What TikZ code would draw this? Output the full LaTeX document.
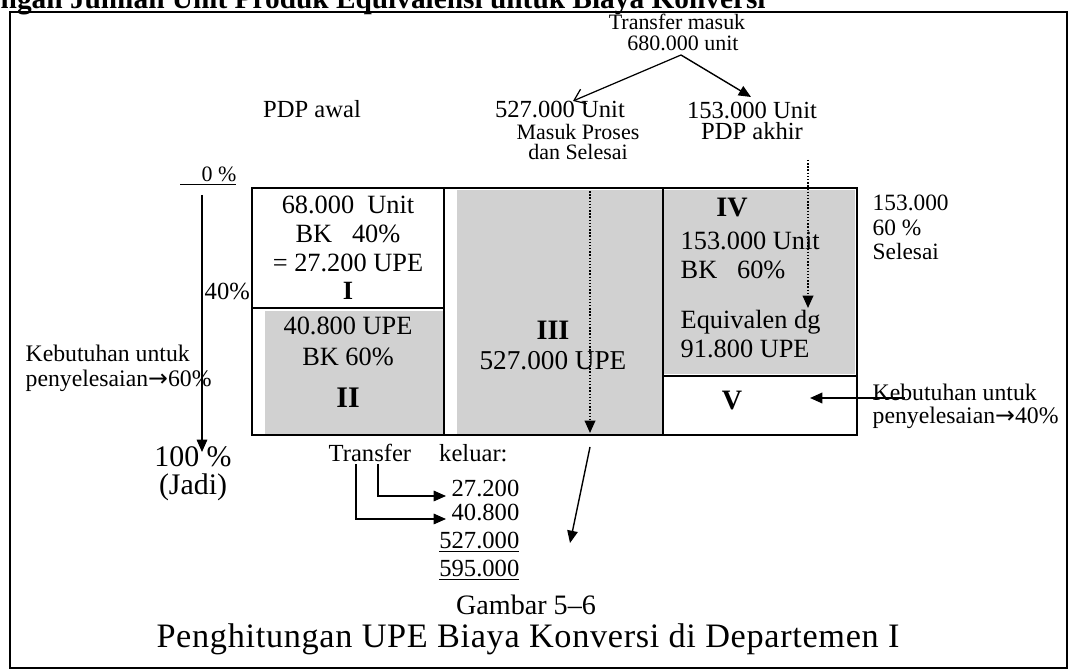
\documentclass[tikz,border=0pt]{standalone}
\usepackage{fontspec}
\setmainfont{Liberation Serif}
\newfontfamily\arrowfont{DejaVu Sans}
\usetikzlibrary{arrows.meta, calc}
\newcommand{\ra}{{\arrowfont →}}
\tikzset{
  every picture/.style={line width=0.8pt},
  txt/.style={inner sep=0pt, font=\fontsize{14}{16}\selectfont},
  sml/.style={inner sep=0pt, font=\fontsize{12.5}{14.2}\selectfont},
  big/.style={inner sep=0pt, font=\fontsize{17}{20}\selectfont},
  roman/.style={inner sep=0pt, font=\fontsize{16}{18}\selectfont\bfseries},
  cell/.style={draw, line width=1pt, inner sep=0pt},
  shade/.style={fill=black!18},
  solidtip/.style={-{Triangle[length=7pt,width=6pt]}, line width=0.8pt},
  opentip/.style={-{Straight Barb[length=6pt,width=9pt]}, line width=0.7pt},
  dots/.style={solidtip, densely dotted, line width=1pt},
}
\begin{document}
\begin{tikzpicture}[x=0.02cm, y=-0.02cm]
  \useasboundingbox (0,0) rectangle (1071,671);
  % frame and clipped heading
  \draw[line width=1.3pt] (10,12) rectangle (1067,668);
  \node[inner sep=0pt, anchor=base west, font=\fontsize{16.7}{20}\selectfont\bfseries] (head) at (0,9)
    {ngan Jumlah Unit Produk Equivalensi untuk Biaya Konversi};

  % the five cells
  \node[cell, minimum width=3.84cm, minimum height=2.40cm] (b1) at (348,248) {};
  \node[cell, minimum width=3.84cm, minimum height=2.54cm] (b2) at (348,371.5) {};
  \node[cell, minimum width=4.38cm, minimum height=4.94cm] (b3) at (553.5,311.5) {};
  \node[cell, minimum width=3.88cm, minimum height=3.76cm] (b4) at (760,282) {};
  \node[cell, minimum width=3.88cm, minimum height=1.18cm] (b5) at (760,405.5) {};
  \fill[shade] ($(b2.south west)+(14,-2)$) rectangle ($(b2.north east)+(-2,4)$);
  \fill[shade] ($(b3.south west)+(14,-2)$) rectangle ($(b3.north east)+(-2,3)$);
  \fill[shade] ($(b4.south west)+(2,-3)$) rectangle ($(b4.north east)+(-3,3)$);

  % text in the cells (anchored on the last line)
  \node[txt, anchor=base, align=center, font=\fontsize{15}{16.4}\selectfont] (t1) at (348,300)
    {68.000\ \ Unit\\BK\ \ \ 40\%\\= 27.200 UPE\\\textbf{I}};
  \node[txt, anchor=base, align=center, font=\fontsize{15}{18}\selectfont] (t2) at (348,408)
    {40.800 UPE\\BK 60\%\\[6pt]{\fontsize{17}{18}\selectfont\bfseries II}};
  \node[roman, anchor=base] (r3) at (553,340) {III};
  \node[txt, anchor=base, font=\fontsize{15.5}{16.4}\selectfont] (t3) at (553,370) {527.000 UPE};
  \node[roman, anchor=base] (r4) at (732,217) {IV};
  \node[txt, anchor=base west, align=left, font=\fontsize{15}{17}\selectfont] (t4) at (680,358)
    {153.000 Unit\\BK\ \ \ 60\%\\[11pt]Equivalen dg\\91.800 UPE};
  \node[roman, anchor=base] (r5) at (732,410) {V};

  % labels above
  \node[sml, anchor=base] (tin) at (677,30) {Transfer masuk};
  \node[sml, anchor=base] (tin2) at (683,51) {680.000 unit};
  \node[txt, anchor=base] (awal) at (312,118) {PDP awal};
  \node[txt, anchor=base] (u527) at (560,118) {527.000 Unit};
  \node[sml, anchor=base, align=center, font=\fontsize{12.5}{11.8}\selectfont] (mps) at (578,160) {Masuk Proses\\dan Selesai};
  \node[txt, anchor=base, align=center, font=\fontsize{14}{12.5}\selectfont] (u153) at (752,140) {153.000 Unit\\PDP akhir};
  \coordinate (fork) at (681,55);
  \coordinate (tip527) at (573,101);
  \coordinate (tip153) at (751,97);
  \draw[opentip] (fork) -- (tip527);
  \draw[solidtip] (fork) -- (tip153);

  % left scale
  \node[sml, anchor=base east] (p0) at (237,182) {\underline{\hspace{12pt}0 \%}};
  \node[txt, anchor=base west] (p40) at (204,300) {40\%};
  \node[big, anchor=base, align=center, font=\fontsize{17}{16.5}\selectfont] (p100) at (193,495) {100 \%\\(Jadi)};
  \coordinate (v0) at (202,195);
  \coordinate (v100) at (202,452);
  \draw[solidtip] (v0) -- (v100);
  \node[sml, anchor=base west, align=left, font=\fontsize{13.5}{14.7}\selectfont] (need60) at (25,387)
    {Kebutuhan untuk\\penyelesaian\ra60\%};

  % right side
  \node[sml, anchor=base west, align=left, font=\fontsize{13.3}{14.2}\selectfont] (done) at (872,260) {153.000\\60 \%\\Selesai};
  \node[sml, anchor=base west, align=left, font=\fontsize{13.5}{13.6}\selectfont] (need40) at (872,424)
    {Kebutuhan untuk\\penyelesaian\ra40\%};
  \coordinate (n40) at (905,398);
  \coordinate (v5) at (810,398);
  \draw[solidtip, line width=1pt] (n40) -- (v5);

  % dotted flows
  \coordinate (d3a) at (590,188);
  \coordinate (d3b) at (590,433);
  \draw[dots] (d3a) -- (d3b);
  \coordinate (d4a) at (808,160);
  \coordinate (d4b) at (808,308);
  \draw[dots] (d4a) -- (d4b);

  % transfer out
  \node[txt, anchor=base west] (tout) at (328,462) {Transfer\hspace{16pt}keluar:};
  \node[txt, anchor=base east, align=right, font=\fontsize{14}{14}\selectfont] (sums) at (520,577)
    {27.200\\40.800\\[2pt]\underline{527.000}\\[2pt]\underline{595.000}};
  \coordinate (e1a) at (378,464);
  \coordinate (e1b) at (446,496);
  \coordinate (e2a) at (356,464);
  \coordinate (e2b) at (446,519);
  \draw[solidtip] (e1a) |- (e1b);
  \draw[solidtip] (e2a) |- (e2b);
  \coordinate (dg1) at (590,447);
  \coordinate (dg2) at (570,543);
  \draw[solidtip] (dg1) -- (dg2);

  % caption
  \node[inner sep=0pt, anchor=base, font=\fontsize{16}{18}\selectfont] (gam) at (526,614) {Gambar 5–6};
  \node[inner sep=0pt, anchor=base, font=\fontsize{19.5}{21}\selectfont\addfontfeature{LetterSpace=2}] (cap) at (528,647)
    {Penghitungan UPE Biaya Konversi di Departemen I};
\end{tikzpicture}
\end{document}
